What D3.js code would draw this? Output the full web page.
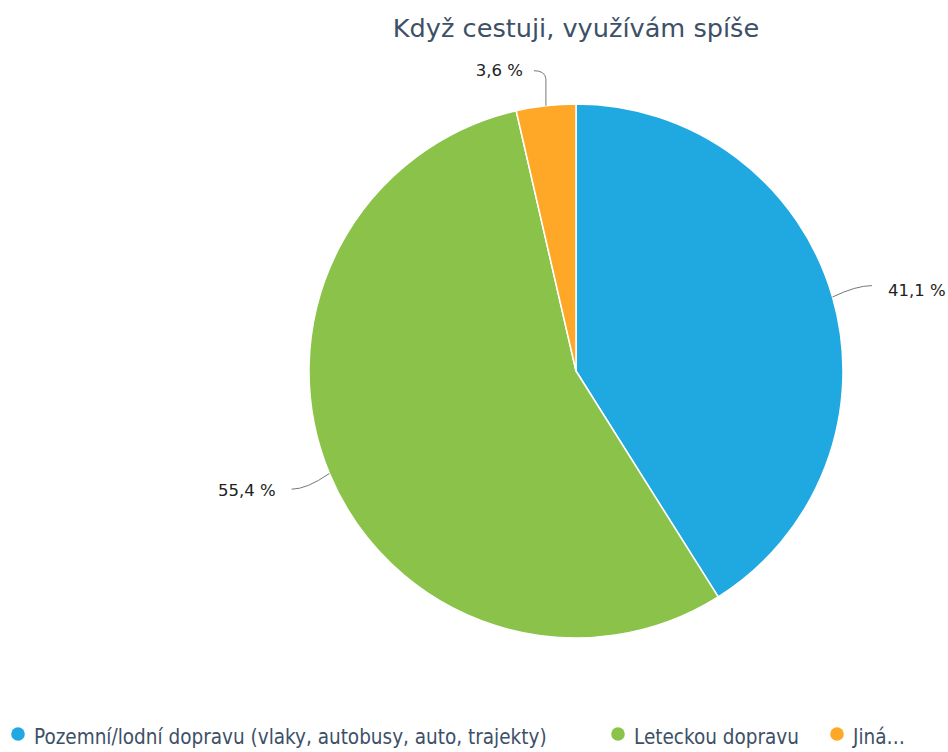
<!DOCTYPE html>
<html>
<head>
<meta charset="utf-8">
<script src="https://cdn.jsdelivr.net/npm/d3@7"></script>
<style>
  html, body { margin: 0; padding: 0; background: #fff; }
  svg { display: block; }
</style>
</head>
<body>
<svg id="chart" width="948" height="752"></svg>
<script>
// Survey answers: preferred mode of travel
const categories = ["Pozemní/lodní dopravu (vlaky, autobusy, auto, trajekty)", "Leteckou dopravu", "Jiná…"];
const values = [41.1, 55.4, 3.6];
const colors = ["#20a9e1", "#8bc34a", "#ffa726"];
const titleText = "Když cestuji, využívám spíše";

const W = 948, H = 752;
const cx = 576, cy = 371, R = 267;
const labelFont = "DejaVu Sans";

const svg = d3.select("#chart");

svg.append("text")
  .attr("x", cx).attr("y", 37)
  .attr("text-anchor", "middle")
  .attr("font-family", "DejaVu Sans")
  .attr("font-size", 25.6)
  .attr("fill", "#3d5067")
  .text(titleText);

const data = categories.map((c, i) => ({ name: c, value: values[i], color: colors[i] }));

const pie = d3.pie().sort(null).value(d => d.value);
const arcs = pie(data);
const arc = d3.arc().innerRadius(0).outerRadius(R);

const g = svg.append("g").attr("transform", `translate(${cx},${cy})`);

g.selectAll("path.slice")
  .data(arcs)
  .join("path")
  .attr("class", "slice")
  .attr("d", arc)
  .attr("fill", d => d.data.color)
  .attr("stroke", "#fff")
  .attr("stroke-width", 1.5)
  .attr("stroke-linejoin", "round");

// Data labels with curved connectors
const fmt = v => d3.format(".1f")(v).replace(".", ",") + " %";
const reach = 41;
arcs.forEach(a => {
  const mid = (a.startAngle + a.endAngle) / 2;
  const sx = Math.sin(mid), sy = -Math.cos(mid);
  const p0 = [sx * R, sy * R];
  const p1 = [sx * (R + reach), sy * (R + reach)];
  const right = sx >= 0;
  const dir = right ? 1 : -1;
  let path, tx, ty, anchor;
  if (Math.abs(sy) > 0.9) {
    // close to the top: rise straight up, then hook towards the label
    const topY = p0[1] - 27;
    path = `M${p0[0]},${p0[1]} L${p0[0]},${topY} Q${p0[0] - 1},${topY - 8} ${p0[0] - 12},${topY - 8}`;
    tx = p0[0] - 23; ty = topY - 3; anchor = "end";
  } else {
    const c = [p0[0] + (p1[0] - p0[0]) * 0.6, p1[1]];
    path = `M${p0[0]},${p0[1]} Q${c[0]},${c[1]} ${p1[0]},${p1[1]}`;
    tx = p1[0] + dir * 16; ty = p1[1] + (right ? 10 : 7); anchor = right ? "start" : "end";
  }
  g.append("path").attr("d", path).attr("fill", "none").attr("stroke", "#777").attr("stroke-width", 1);
  g.append("text")
    .attr("x", tx).attr("y", ty)
    .attr("text-anchor", anchor)
    .attr("font-family", labelFont)
    .attr("font-size", 16.5)
    .attr("fill", "#222")
    .text(fmt(a.data.value));
});

// Legend
const legendX = [18, 618, 837];
const legend = svg.append("g");
data.forEach((d, i) => {
  const item = legend.append("g").attr("transform", `translate(${legendX[i]},734)`);
  item.append("circle").attr("r", 6.8).attr("fill", d.color);
  item.append("text")
    .attr("x", 16).attr("y", 10)
    .attr("font-family", "DejaVu Sans Condensed")
    .attr("font-size", 20.5)
    .attr("fill", "#3d5067")
    .text(d.name);
});
</script>
</body>
</html>
